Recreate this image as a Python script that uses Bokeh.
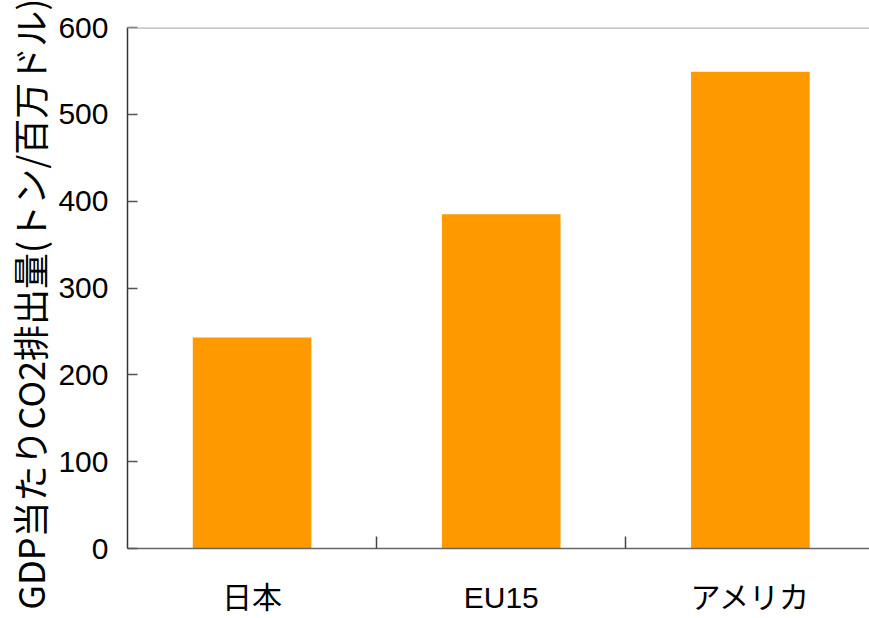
from bokeh.plotting import figure
from bokeh.models import FixedTicker, Range1d, Span, LinearAxis
from bokeh.embed import file_html
from bokeh.resources import INLINE

categories = ["日本", "EU15", "アメリカ"]
values = [243, 385, 549]
y_ticks = [0, 100, 200, 300, 400, 500, 600]
y_label = "GDP当たりCO2排出量(トン/百万ドル)"

NUM_FONT = "Liberation Sans, Noto Sans CJK JP"

xs = [i + 0.5 for i in range(len(categories))]

p = figure(width=869, height=618, output_backend="svg", toolbar_location=None,
           x_range=Range1d(0, 2.978), y_range=Range1d(0, 600),
           x_axis_type=None, min_border_left=116, min_border_right=0,
           min_border_top=27, min_border_bottom=70)
p.background_fill_color = "white"
p.border_fill_color = "white"
p.outline_line_color = None
p.grid.visible = False

p.vbar(x=xs, top=values, width=0.476, bottom=0, fill_color="#FF9900", line_color=None)

top_line = Span(location=600, dimension="width", line_color="#b4b4b4", line_width=2.5)
p.add_layout(top_line)

xaxis = LinearAxis(ticker=FixedTicker(ticks=xs, minor_ticks=[1, 2]))
xaxis.major_label_overrides = {x: c for x, c in zip(xs, categories)}
xaxis.major_tick_in = 0
xaxis.major_tick_out = 0
xaxis.minor_tick_in = 12
xaxis.minor_tick_out = 0
xaxis.minor_tick_line_color = "#444444"
xaxis.minor_tick_line_width = 1.5
xaxis.axis_line_color = "#666666"
xaxis.axis_line_width = 1.5
xaxis.major_label_text_font = NUM_FONT
xaxis.major_label_text_font_size = "30px"
xaxis.major_label_text_color = "black"
xaxis.major_label_standoff = 32
p.add_layout(xaxis, "below")

yaxis = p.yaxis[0]
yaxis.ticker = FixedTicker(ticks=y_ticks)
yaxis.minor_tick_line_color = None
yaxis.major_tick_in = 10
yaxis.major_tick_out = 0
yaxis.major_tick_line_color = "#555555"
yaxis.major_tick_line_width = 1.5
yaxis.axis_line_color = "#333333"
yaxis.axis_line_width = 1.5
yaxis.major_label_text_font = NUM_FONT
yaxis.major_label_text_font_size = "30px"
yaxis.major_label_text_color = "black"
yaxis.major_label_standoff = 19
# trailing no-break spaces shift the centred label down, as in the reference
yaxis.axis_label = y_label + "\u00a0" * 4
yaxis.axis_label_text_font = "Noto Sans CJK JP"
yaxis.axis_label_text_font_style = "normal"
yaxis.axis_label_text_font_size = "36px"
yaxis.axis_label_text_color = "black"
yaxis.axis_label_standoff = 0

open("out.html", "w").write(file_html(p, INLINE))
